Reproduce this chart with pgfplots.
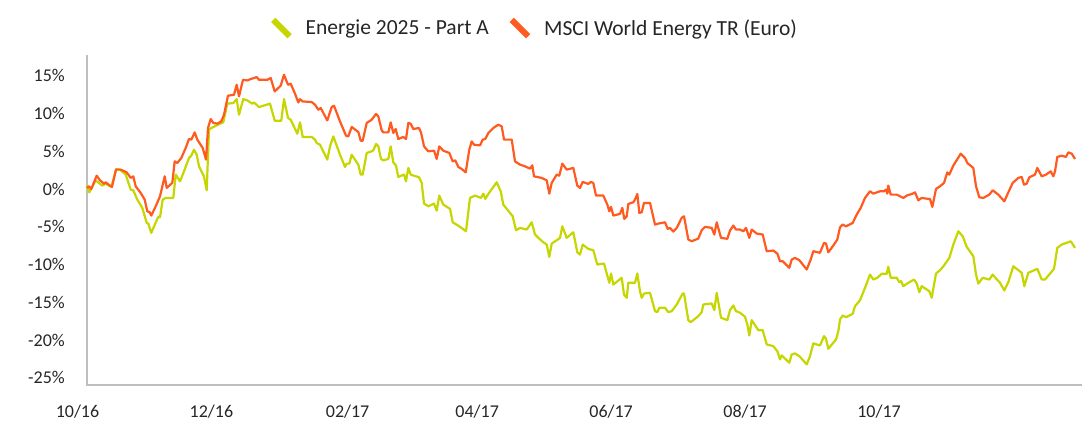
\documentclass[border=0pt]{standalone}
\usepackage{fontspec}
\setmainfont{Carlito}
\usepackage{pgfplots}
\pgfplotsset{compat=1.18}
\definecolor{eg}{HTML}{C5D600}
\definecolor{msci}{HTML}{FF5A1F}
\definecolor{axgray}{HTML}{BFBFBF}
\definecolor{txt}{HTML}{262626}
\begin{document}
\begin{tikzpicture}
\useasboundingbox (0,0) rectangle (1082pt,423pt);
\begin{axis}[
  at={(77.5pt,37.7pt)}, anchor=south west,
  scale only axis, width=1004.7pt, height=329.9pt,
  xmin=0, xmax=457.5, ymin=-26, ymax=17.7,
  clip=false,
  axis lines=left, axis line style={draw=none,-},
  tick style={draw=none}, major tick length=0pt,
  xtick={0,61,123,182,243,304,365},
  xticklabels={10/16,12/16,02/17,04/17,06/17,08/17,10/17},
  ytick={-25,-20,...,15},
  yticklabels={-25\%,-20\%,-15\%,-10\%,-5\%,0\%,5\%,10\%,15\%},
  yticklabel style={font=\fontsize{18}{20}\selectfont, text=txt, anchor=east, inner sep=0pt, xshift=-12.5pt},
  xticklabel style={font=\fontsize{18}{20}\selectfont, text=txt, anchor=north, inner sep=0pt, yshift=-20pt},
  legend style={draw=none, fill=none, inner sep=0pt, at={(axis description cs:0.1916,1.083)}, anchor=west,
    font=\fontsize{21.5}{23}\selectfont, text=txt,
    /tikz/every odd column/.append style={column sep=13pt},
    /tikz/every even column/.append style={column sep=20pt},
    nodes={inner sep=0pt}},
  legend columns=2,
  legend image code/.code={\draw[#1, line width=6pt] (0pt,8.2pt) -- (16.4pt,-8.2pt);},
]
\draw[axgray, line width=1.8pt] (axis cs:4.33,17.7) -- (axis cs:4.33,-26) -- (axis cs:457.5,-26);
\addplot[eg, line width=2.2pt, line join=round] coordinates {
(4.3,0.15)(4.46,0.36)(5.37,-0.44)(8.29,1.15)(11.29,0.45)(12.84,0.71)(15.39,0.28)(17.67,2.66)(19.35,2.57)(21.95,1.91)(24.23,-0.08)(25.41,-0.17)(27.23,-1.40)(29.51,-2.50)(31.51,-4.49)(32.24,-4.58)(33.61,-5.81)(36.66,-3.74)(37.57,-3.74)(38.80,-1.40)(40.16,-1.18)(43.62,-1.18)(44.72,1.91)(46.68,1.02)(48.50,2.34)(50.77,4.11)(51.82,4.42)(53.05,5.21)(54.28,4.55)(55.33,3.00)(57.60,1.68)(58.83,-0.17)(59.88,7.86)(60.93,8.08)(63.66,8.48)(66.39,8.83)(68.21,11.30)(70.95,11.39)(72.49,11.92)(73.54,9.84)(75.50,11.92)(77.32,11.74)(79.60,11.30)(80.37,11.47)(82.65,10.86)(86.16,11.17)(87.66,11.30)(89.80,9.05)(92.80,9.05)(94.03,11.92)(95.86,9.41)(97.08,9.18)(100.09,7.33)
(101.32,8.83)(102.55,6.89)(106.65,6.89)(108.15,6.54)(108.92,6.10)(110.43,5.87)(113.75,3.89)(114.98,5.65)(116.48,6.97)(119.53,4.55)(121.81,2.92)(122.59,3.36)(123.77,3.36)(124.86,4.55)(127.87,3.23)(128.96,1.91)(129.87,1.91)(131.69,4.78)(133.97,4.99)(134.70,5.12)(135.93,5.97)(136.98,5.65)(138.20,3.98)(139.25,3.80)(141.53,3.98)(142.62,5.65)(143.81,3.53)(145.04,3.10)(146.08,1.60)(148.68,1.91)(149.59,1.02)(150.64,2.79)(151.73,1.91)(155.51,1.55)(156.74,0.81)(157.79,-1.93)(159.74,-2.29)(162.34,-1.93)(163.57,-2.86)(164.75,-0.87)(166.57,-2.06)(169.63,-2.63)(170.85,-4.41)(173.86,-4.94)(176.91,-5.60)(178.73,-1.18)(181.01,-0.87)(183.74,-1.18)(184.79,-0.61)(185.70,-1.31)(187.07,-0.65)(190.89,0.89)(192.71,-0.30)(193.90,-2.06)(198.18,-3.61)(199.68,-5.46)
(201.50,-5.15)(204.55,-5.37)(206.83,-4.41)(208.33,-6.03)(209.83,-6.47)(212.11,-7.05)(213.66,-7.36)(214.84,-8.98)(215.94,-7.22)(218.21,-6.79)(219.72,-6.47)(220.76,-4.94)(222.77,-6.47)(225.77,-5.73)(227.59,-8.38)(228.82,-8.68)(230.05,-7.36)(232.60,-7.93)(234.88,-8.11)(236.70,-10.00)(239.75,-9.87)(241.26,-11.46)(242.17,-12.42)(242.94,-11.19)(243.99,-12.65)(247.81,-11.76)(248.86,-13.97)(250.09,-14.41)(250.82,-12.42)(253.87,-12.42)(254.92,-11.19)(256.14,-13.54)(256.92,-14.41)(257.97,-13.84)(260.70,-13.75)(262.98,-16.18)(264.02,-16.31)(264.93,-15.73)(267.53,-15.73)(269.03,-16.31)(270.58,-16.18)(272.86,-15.30)(275.59,-13.84)(276.18,-13.84)(278.14,-17.37)(279.23,-17.64)(282.69,-16.84)(284.24,-16.31)(284.97,-15.30)(288.80,-15.16)(289.98,-16.05)(291.07,-13.75)(293.03,-17.05)(295.90,-17.37)(297.13,-16.05)(298.63,-15.43)(299.86,-16.18)
(301.68,-16.39)(303.96,-16.92)(305.01,-17.94)(305.92,-19.40)(307.01,-17.37)(310.02,-18.70)(312.02,-18.70)(313.84,-20.59)(316.85,-20.81)(318.67,-21.47)(319.90,-22.57)(320.67,-22.04)(324.13,-23.01)(325.23,-21.91)(326.73,-21.78)(328.69,-22.14)(332.06,-23.23)(333.55,-22.14)(335.06,-20.45)(338.11,-20.72)(339.93,-19.49)(340.84,-19.83)(341.89,-21.16)(345.40,-19.93)(346.45,-18.83)(347.22,-17.28)(348.45,-16.75)(349.95,-16.98)(353.00,-16.53)(354.05,-15.52)(356.33,-14.73)(358.60,-13.09)(360.88,-11.33)(362.38,-11.99)(364.21,-11.76)(366.21,-11.23)(368.49,-11.23)(369.21,-10.31)(370.31,-11.76)(373.04,-11.76)(374.22,-12.34)(375.00,-12.21)(376.04,-12.87)(378.32,-12.42)(380.92,-11.99)(382.15,-12.52)(383.33,-13.67)(384.42,-12.87)(387.89,-13.54)(388.98,-14.41)(390.94,-11.19)
(392.76,-10.76)(394.58,-10.13)(396.99,-9.12)(398.81,-7.36)(401.09,-5.60)(403.09,-6.26)(404.91,-7.66)(407.92,-8.90)(409.15,-11.33)(410.20,-12.52)(412.20,-11.76)(415.21,-11.99)(416.75,-11.33)(418.26,-11.85)(420.08,-12.42)(422.04,-13.44)(423.86,-12.34)(426.14,-10.23)(429.96,-11.10)(431.14,-12.87)(432.97,-11.10)(437.06,-10.57)(439.07,-11.99)(440.57,-11.99)(443.17,-11.10)(444.67,-10.57)(446.17,-7.79)(448.17,-7.36)(452.28,-6.92)(454.23,-7.79)
};
\addlegendentry{Energie 2025 - Part A}
\addplot[msci, line width=2.2pt, line join=round] coordinates {
(4.33,0.15)(5.24,0.36)(6.28,0.01)(8.74,1.77)(10.25,1.15)(12.07,0.71)(12.84,0.89)(14.34,0.54)(15.71,0.28)(17.53,2.57)(19.67,2.57)(22.40,2.21)(24.23,1.47)(25.41,1.68)(26.50,0.36)(28.78,-0.52)(30.60,-1.40)(31.78,-2.95)(32.88,-3.08)(33.61,-3.52)(35.61,-2.29)(37.57,-0.97)(39.71,1.68)(40.62,0.15)(43.17,0.81)(44.26,3.66)(45.45,3.45)(47.27,4.11)(49.27,5.44)(50.77,6.63)(51.82,6.54)(53.37,7.50)(54.55,6.54)(57.01,5.44)(58.52,3.89)(59.43,8.08)(60.66,9.27)(61.84,8.75)(63.66,8.65)(65.48,8.96)(66.71,9.84)(68.53,12.36)(71.27,12.49)(72.49,13.81)(73.54,12.27)(75.36,14.47)(77.32,14.38)(78.87,14.57)(80.37,14.70)(81.60,14.83)(82.65,14.47)(86.43,14.47)(87.98,14.70)(89.80,12.93)(92.53,13.68)(94.03,15.14)(95.86,13.81)(97.08,13.95)(98.91,12.72)(100.55,11.47)
(101.32,11.9)(102.55,11.60)(106.65,11.52)(108.15,11.17)(109.65,10.51)(110.75,10.73)(113.75,9.09)(115.75,10.86)(116.80,11.03)(119.53,8.96)(122.27,7.07)(123.31,6.97)(124.86,8.22)(127.87,7.55)(128.96,6.40)(129.87,6.40)(131.69,8.75)(133.97,9.18)(135.93,9.94)(136.98,9.62)(138.52,7.77)(139.25,7.50)(141.53,7.50)(142.62,8.83)(143.81,7.42)(144.90,7.95)(146.08,6.63)(148.36,6.89)(149.59,6.63)(150.64,8.75)(151.73,8.65)(152.91,7.95)(155.51,8.08)(156.42,7.50)(157.79,5.65)(159.74,4.99)(162.34,5.08)(163.57,3.98)(164.75,5.65)(166.57,5.08)(169.31,4.78)(170.85,3.66)(172.04,3.80)(173.40,2.92)(174.95,2.66)(176.77,2.21)(178.41,5.21)(179.51,6.31)(180.55,5.87)(183.29,5.78)(184.52,6.54)(185.70,6.63)(187.07,7.42)(189.34,8.08)(191.62,8.52)(193.17,8.30)(194.22,6.54)(197.72,6.54)(199.22,3.66)
(201.50,3.23)(203.78,3.00)(206.06,2.70)(207.10,3.14)(207.88,1.68)(211.38,1.47)(213.66,1.15)(214.84,-0.61)(215.94,0.81)(218.21,1.91)(219.40,1.77)(220.76,3.36)(222.77,2.57)(225.77,2.79)(227.59,0.45)(228.82,0.15)(230.05,0.94)(232.60,0.67)(233.70,0.94)(234.88,0.81)(236.11,-0.87)(239.43,-0.87)(241.26,-2.06)(242.17,-2.95)(242.94,-2.37)(243.99,-3.52)(247.04,-3.29)(248.09,-2.50)(248.99,-3.96)(250.09,-3.61)(250.82,-1.97)(253.09,-1.76)(253.87,-1.40)(254.92,-0.65)(255.83,-3.16)(256.92,-3.08)(257.97,-1.84)(260.70,-1.84)(262.98,-4.71)(264.48,-4.58)(267.53,-4.41)(268.76,-5.28)(269.81,-5.15)(271.31,-5.64)(272.86,-5.15)(275.13,-3.82)(276.18,-3.61)(278.14,-6.69)(279.69,-6.92)(282.69,-6.56)(284.24,-5.46)(285.74,-5.01)(288.80,-5.15)(289.98,-6.03)(291.07,-4.41)(293.03,-6.47)(295.90,-6.60)(297.13,-5.50)(298.63,-4.84)(299.86,-5.37)
(301.68,-5.37)(303.19,-5.60)(304.41,-5.15)(305.92,-6.47)(307.01,-5.37)(309.29,-5.90)(312.02,-6.03)(313.84,-8.24)(316.85,-8.15)(318.67,-8.55)(319.90,-9.57)(321.13,-9.57)(324.13,-10.44)(325.23,-9.34)(326.73,-9.12)(328.69,-9.43)(332.06,-10.66)(333.88,-9.34)(335.06,-8.24)(338.11,-8.45)(339.93,-7.13)(340.84,-7.22)(341.89,-8.38)(344.17,-7.49)(345.99,-6.69)(347.22,-5.07)(348.45,-4.71)(349.95,-4.94)(353.00,-4.49)(354.82,-3.39)(356.65,-2.50)(358.60,-1.18)(360.88,-0.30)(362.38,-0.61)(365.43,-0.30)(367.26,-0.30)(368.17,-0.08)(368.76,-0.61)(369.21,0.45)(370.31,-0.74)(373.04,-0.74)(376.04,-1.18)(377.59,-0.87)(380.33,-0.61)(381.37,-0.44)(382.87,-1.50)(384.42,-1.18)(387.43,-1.31)(388.20,-1.31)(389.25,-2.37)(390.94,0.01)
(392.76,0.36)(394.58,0.81)(396.08,2.21)(396.99,1.91)(398.81,3.10)(402.18,4.68)(404.14,4.11)(405.19,3.45)(407.92,2.79)(409.15,0.36)(410.65,-1.10)(412.47,-1.18)(415.21,-0.74)(416.75,-0.17)(419.30,-0.74)(422.04,-1.63)(423.86,-0.44)(425.86,0.81)(428.41,1.47)(429.96,1.60)(431.01,0.58)(432.24,0.71)(433.42,1.55)(436.02,1.91)(437.06,2.79)(439.07,1.68)(441.03,1.91)(443.17,2.34)(444.35,1.68)(445.12,2.34)(446.17,4.25)(448.17,4.42)(450.13,4.25)(451.19,4.86)(452.73,4.68)(454.23,3.98)
};
\addlegendentry{MSCI World Energy TR (Euro)}
\end{axis}
\end{tikzpicture}
\end{document}
